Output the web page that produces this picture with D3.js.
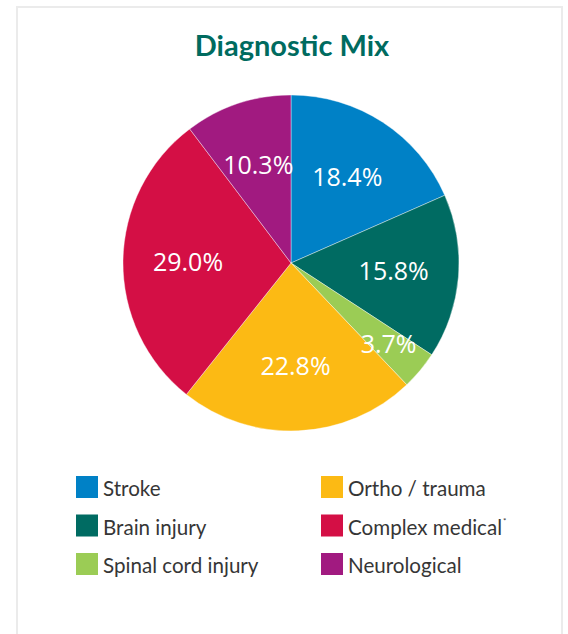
<!DOCTYPE html>
<html>
<head>
<meta charset="utf-8">
<script src="https://cdn.jsdelivr.net/npm/d3@7"></script>
<style>
  body { margin: 0; background: #fff; }
</style>
</head>
<body>
<div id="canvas"></div>
<script>
"use strict"

/* Chart data */
let categories = ["Stroke", "Brain injury", "Spinal cord injury", "Ortho / trauma", "Complex medical", "Neurological"];
let shares = [18.4, 15.8, 3.7, 22.8, 29.0, 10.3];
let sliceColors = ["#0081c6", "#006b62", "#9bcc55", "#fcba14", "#d40f45", "#a11a80"];
let footnoteMarks = ["", "", "", "", "*", ""];
let chartTitle = "Diagnostic Mix";

let width = 568;
let height = 634;

let drawing = d3.select("#canvas")
    .append("svg")
    .attr("width", width)
    .attr("height", height);

/* Light grey frame, open at the bottom */
let frame = drawing.append("path")
    .attr("d", "M17,640 L17,7 L562,7 L562,640")
    .attr("fill", "none")
    .attr("stroke", "#ebebeb")
    .attr("stroke-width", 2);

/* Title */
let title = drawing.append("text")
    .attr("x", 292)
    .attr("y", 56)
    .attr("text-anchor", "middle")
    .attr("font-family", "Lato, sans-serif")
    .attr("font-weight", "bold")
    .attr("font-size", 29)
    .attr("fill", "#006b5f")
    .text(chartTitle);

/* Pie */
let pieX = 291;
let pieY = 263;
let radius = 168;

let color = d3.scaleOrdinal()
    .domain(categories)
    .range(sliceColors);

let pie = d3.pie()
    .sort(null)
    .value(d => d.share);

let slices = pie(categories.map((c, i) => ({ name: c, share: shares[i] })));

let arc = d3.arc()
    .innerRadius(0)
    .outerRadius(radius);

let labelArc = d3.arc()
    .innerRadius(103)
    .outerRadius(103);

/* Small slices get their label pushed outward */
let smallLabelArc = d3.arc()
    .innerRadius(127)
    .outerRadius(127);

let pieGroup = drawing.append("g")
    .attr("transform", "translate(" + pieX + "," + pieY + ")");

pieGroup.selectAll("path")
    .data(slices)
    .join("path")
    .attr("d", arc)
    .attr("fill", d => color(d.data.name))
    .attr("stroke", "#ffffff")
    .attr("stroke-width", 0.4);

pieGroup.selectAll("text")
    .data(slices)
    .join("text")
    .attr("transform", d => {
        let c = d.data.share < 5 ? smallLabelArc.centroid(d) : labelArc.centroid(d);
        return "translate(" + c[0] + "," + c[1] + ")";
    })
    .attr("dy", "0.36em")
    .attr("text-anchor", "middle")
    .attr("font-family", "'Open Sans', sans-serif")
    .attr("font-size", 25)
    .attr("fill", "#ffffff")
    .text(d => d.data.share.toFixed(1) + "%");

/* Legend: two columns, three rows, filled top to bottom */
let legendRows = 3;
let legendCol = d3.scaleOrdinal()
    .domain([0, 1])
    .range([76, 321]);
let legendRow = d3.scaleLinear()
    .domain([0, 1])
    .range([476, 514.5]);

let legendItems = drawing.append("g")
    .selectAll("g")
    .data(categories)
    .join("g")
    .attr("transform", (d, i) => "translate(" + legendCol(Math.floor(i / legendRows)) + "," + legendRow(i % legendRows) + ")");

legendItems.append("rect")
    .attr("width", 22)
    .attr("height", 22)
    .attr("fill", d => color(d));

let legendText = legendItems.append("text")
    .attr("x", 27)
    .attr("y", 20)
    .attr("font-family", "Lato, sans-serif")
    .attr("font-size", 20.6)
    .attr("fill", "#363636")
    .text(d => d);

legendText.append("tspan")
    .attr("dx", 1)
    .attr("dy", -11)
    .attr("font-size", 8)
    .text((d, i) => footnoteMarks[i]);
</script>
</body>
</html>
